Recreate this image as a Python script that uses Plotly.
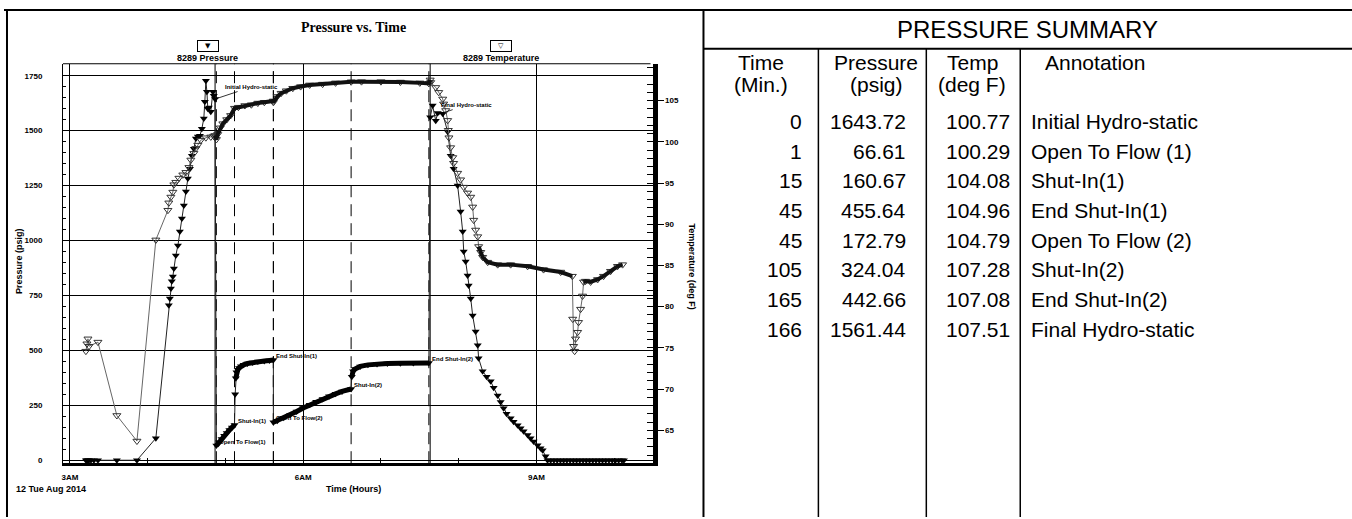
import pandas as pd
import plotly.graph_objects as go

W, H = 1352, 519
BASE_TIME = pd.Timestamp("2014-08-12 03:00:00")

# ---------------- gauge data (minutes after 03:00) ----------------
# 8289 Pressure (psig)
pre_min = [12.3, 13.1, 13.9, 14.7, 16.2, 18.5, 21.6, 36.2, 51.7, 66.3, 76.3, 77.1, 77.9, 78.6, 79.4, 80.2,
           81.7, 83.3, 84.8, 86.4, 87.9, 89.5, 91.0, 92.6, 94.1, 95.6, 97.2, 98.7, 100.3, 101.8, 103.3,
           104.1, 104.9, 105.7, 106.4, 107.2, 108.7, 110.3, 111.0, 112.0]
pre_psig = [0, 0, 0, 0, 0, 0, 0, 0, 0, 100, 705, 736, 782, 814, 836, 873,
            932, 977, 1041, 1100, 1159, 1223, 1282, 1327, 1386, 1418, 1464, 1473, 1477, 1509, 1555,
            1632, 1727, 1677, 1600, 1605, 1586, 1677, 1659, 1643.72]
flow1_min = [113, 115, 117, 119, 121, 123, 125, 127]
flow1_psig = [66.61, 82, 97, 111, 124, 137, 149, 160.67]
si1_min = [127.5, 128, 128.5, 129.5, 130.5, 132, 134, 137, 141, 145, 150, 154, 157]
si1_psig = [300, 373, 400, 412, 420, 428, 434, 440, 445, 449, 452, 454, 455.64]
flow2_min = [157, 160, 165, 170, 175, 180, 185, 190, 195, 200, 205, 210, 217]
flow2_psig = [172.79, 180, 193, 207, 222, 238, 252, 266, 279, 291, 302, 313, 324.04]
si2_min = [217.5, 218.5, 220, 224, 230, 237, 245, 255, 265, 277]
si2_psig = [380, 405, 415, 427, 434, 438, 440, 441, 442, 442.66]
post_min = [278, 279.9, 282.3, 283.8, 287.7, 291.5, 293.8, 296.1, 299.2, 301.5, 303.1, 303.9, 305.4,
            306.9, 307.7, 309.3, 310.8, 313.1, 314.7, 315.4, 318.5, 321.6, 324.7, 327.0, 330.1, 332.4,
            334.7, 337.0, 340.1, 342.4, 345.5, 347.8, 350.1, 353.2, 355.5, 357.8, 360.9, 363.2, 364.8,
            367.1, 368.6, 371.0, 373.5, 376.0, 378.5, 381.0, 383.5, 386.0, 388.5, 391.0, 393.5, 396.0,
            398.5, 401.0, 403.5, 406.0, 408.5, 411.0, 413.5, 416.0, 418.5, 421.0, 423.5, 426.0, 427.5]
post_psig = [1561.44, 1614, 1545, 1580, 1577, 1495, 1386, 1327, 1250, 1132, 1041, 950, 905,
             841, 795, 736, 659, 586, 523, 464, 405, 380, 359, 330, 295, 265,
             236, 212, 191, 175, 159, 145, 132, 115, 100, 85, 68, 55, 45,
             18, 0, 0, 0, 0, 0, 0, 0, 0, 0, 0, 0, 0,
             0, 0, 0, 0, 0, 0, 0, 0, 0, 0, 0, 0, 0]

# 8289 Temperature (deg F)
tpre_min = [12.3, 13.1, 13.9, 14.7, 21.6, 36.2, 51.7, 66.3, 75.6, 76.3, 77.9, 79.4, 80.2, 81.7, 84.1,
            87.1, 89.5, 91.8, 93.3, 95.6, 97.2, 98.7, 101.0, 104.9, 108.7, 111.0]
tpre_degf = [74.6, 75.5, 76.1, 75.2, 75.7, 66.8, 63.7, 88.1, 91.7, 92.6, 93.3, 93.9, 94.8, 95.1, 95.6,
             96.0, 96.3, 96.9, 97.8, 98.6, 99.2, 99.6, 100.2, 100.5, 100.6, 100.7]
ttest_min = [112, 113, 114, 116, 118, 121, 124, 127, 130, 135, 140, 145, 150, 157, 157,
             160, 163, 167, 172, 178, 185, 195, 205, 217, 225, 240, 255, 270, 277, 278]
ttest_degf = [100.77, 100.29, 100.9, 101.7, 102.2, 102.7, 103.2, 104.08, 104.2, 104.4, 104.5, 104.7, 104.8, 104.96, 104.79,
              105.5, 105.9, 106.2, 106.5, 106.7, 106.9, 107.0, 107.15, 107.28, 107.3, 107.3, 107.25, 107.15, 107.08, 107.51]
tpost_min = [278.4, 282.3, 284.6, 287.7, 288.4, 290.0, 291.5, 292.0, 292.5, 293.8, 295.4, 296.1, 299.2,
             301.5, 303.9, 306.9, 309.3, 310.8, 311.6, 313.1, 314.7, 315.4, 317.0, 318.5, 322.4, 330.1,
             340.1, 353.2, 365.5, 378.7, 387.7, 388.0, 388.7, 389.5, 390.2, 391.8, 392.5, 394.1, 395.6,
             396.4, 397.9, 401.8, 407.2, 411.8, 417.2, 422.6, 426.5]
tpost_degf = [107.2, 106.6, 106.0, 105.2, 104.6, 103.8, 102.6, 101.4, 100.5, 99.3, 98.1, 97.4, 96.2,
              95.4, 94.5, 93.8, 93.3, 92.1, 90.5, 89.3, 88.5, 87.3, 86.6, 86.0, 85.4, 85.1,
              85.1, 84.9, 84.5, 84.2, 83.7, 78.5, 75.2, 74.6, 76.1, 76.9, 78.1, 79.7, 81.3,
              83.0, 83.1, 83.0, 83.3, 83.7, 84.3, 84.9, 85.1]

# ---------------- pressure summary ----------------
TEST_START_MIN = 112  # 04:52
sum_time = [0, 1, 15, 45, 45, 105, 165, 166]
sum_press = [1643.72, 66.61, 160.67, 455.64, 172.79, 324.04, 442.66, 1561.44]
sum_temp = [100.77, 100.29, 104.08, 104.96, 104.79, 107.28, 107.08, 107.51]
sum_note = ["Initial Hydro-static", "Open To Flow (1)", "Shut-In(1)", "End Shut-In(1)",
            "Open To Flow (2)", "Shut-In(2)", "End Shut-In(2)", "Final Hydro-static"]

# ---------------- axes ticks ----------------
xtick_min = [0, 180, 360]
xtick_text = ["3AM", "6AM", "9AM"]
p_ticks = [0, 250, 500, 750, 1000, 1250, 1500, 1750]
t_ticks = [65, 70, 75, 80, 85, 90, 95, 100, 105]


def tm(m):
    return BASE_TIME + pd.Timedelta(minutes=m)


def times(ms):
    return [tm(m) for m in ms]


def px(x):
    return x / W


def py(y):
    return 1 - y / H


NARROW = "Liberation Sans Narrow, Arial Narrow, Liberation Sans, Arial, sans-serif"
SANS = "Liberation Sans, Arial, sans-serif"

fig = go.Figure()

# ---- pressure ----
p_min = pre_min + flow1_min + si1_min + flow2_min + si2_min + post_min
p_val = pre_psig + flow1_psig + si1_psig + flow2_psig + si2_psig + post_psig
fig.add_trace(go.Scatter(x=times(p_min), y=p_val, mode="lines+markers", yaxis="y",
                         line=dict(color="#222", width=1),
                         marker=dict(symbol="triangle-down", size=7, color="black"),
                         hoverinfo="skip"))
for sm, sv in [(flow1_min, flow1_psig), (si1_min[1:], si1_psig[1:]), (flow2_min, flow2_psig), (si2_min, si2_psig)]:
    fig.add_trace(go.Scatter(x=times(sm), y=sv, mode="lines", yaxis="y",
                             line=dict(color="black", width=5), hoverinfo="skip"))

# ---- temperature ----
t_min = tpre_min + ttest_min + tpost_min
t_val = tpre_degf + ttest_degf + tpost_degf
fig.add_trace(go.Scatter(x=times(t_min), y=t_val, mode="lines+markers", yaxis="y2",
                         line=dict(color="#666", width=1),
                         marker=dict(symbol="triangle-down-open", size=7, color="#333",
                                     line=dict(width=1)),
                         hoverinfo="skip"))
fig.add_trace(go.Scatter(x=times(ttest_min), y=ttest_degf, mode="lines", yaxis="y2",
                         line=dict(color="#111", width=4), hoverinfo="skip"))
for lo, hi in [(315.0, 387.8), (396.0, 427.0)]:
    sm = [m for m in tpost_min if lo <= m <= hi]
    sv = [v for m, v in zip(tpost_min, tpost_degf) if lo <= m <= hi]
    fig.add_trace(go.Scatter(x=times(sm), y=sv, mode="lines", yaxis="y2",
                             line=dict(color="#111", width=4), hoverinfo="skip"))

shapes = []
ann = []


def text(x, y, s, size, family=SANS, xa="center", ya="middle", angle=0):
    ann.append(dict(x=px(x), y=py(y), xref="paper", yref="paper", text=s, showarrow=False,
                    xanchor=xa, yanchor=ya, textangle=angle,
                    font=dict(family=family, size=size, color="black")))


# ---- event lines ----
for i, t in enumerate(sum_time):
    hydro = i in (0, len(sum_time) - 1)
    shapes.append(dict(type="line", xref="x", yref="y domain", x0=tm(TEST_START_MIN + t), x1=tm(TEST_START_MIN + t),
                       y0=0, y1=1, layer="below",
                       line=dict(color="black", width=1, dash="solid" if hydro else "12px,7px")))

# ---- event labels ----
for i, (t, p, note) in enumerate(zip(sum_time, sum_press, sum_note)):
    label = "<b>" + note.replace(" (", "(") + "</b>"
    if i in (0, len(sum_time) - 1):
        ann.append(dict(x=tm(TEST_START_MIN + t), y=p, xref="x", yref="y", text=label,
                        showarrow=True, arrowhead=0, arrowwidth=0.8, arrowcolor="black", ax=36, ay=-12,
                        xanchor="center", yanchor="middle",
                        font=dict(family=SANS, size=6, color="black")))
    else:
        ann.append(dict(x=tm(TEST_START_MIN + t), y=p, xref="x", yref="y", text=label,
                        showarrow=False, xanchor="left", yanchor="middle", xshift=1, yshift=4,
                        font=dict(family=SANS, size=6, color="black")))

# ---- chart frame extras ----
shapes.append(dict(type="line", xref="paper", yref="paper", x0=px(62), x1=px(650), y0=py(64), y1=py(64),
                   line=dict(color="black", width=1)))

# title & legend
text(353, 28, "<b>Pressure vs. Time</b>", 14, family="Liberation Serif, Times New Roman, serif")
for cx, sym, name in [(207, "\u25BC", "8289 Pressure"), (500, "\u25BD", "8289 Temperature")]:
    ann.append(dict(x=px(cx), y=py(46), xref="paper", yref="paper", text=sym, showarrow=False,
                    xanchor="center", yanchor="middle",
                    width=18, height=8, borderpad=1, bordercolor="black", borderwidth=1,
                    font=dict(family="DejaVu Sans", size=7, color="black")))
    text(cx, 58, "<b>" + name + "</b>", 9, family=NARROW)

# axis titles
text(18, 262, "<b>Pressure (psig)</b>", 9, angle=-90)
text(692, 268, "<b>Temperature (deg F)</b>", 9, angle=90)
text(50, 491, "<b>12 Tue Aug 2014</b>", 9, family=NARROW)
text(353, 491, "<b>Time (Hours)</b>", 9, family=NARROW)

# ---- outer frame and table ----
def hline(x0, x1, y, w=2):
    shapes.append(dict(type="line", xref="paper", yref="paper", x0=px(x0), x1=px(x1), y0=py(y), y1=py(y),
                       line=dict(color="black", width=w)))


def vline(x, y0, y1, w=2):
    shapes.append(dict(type="line", xref="paper", yref="paper", x0=px(x), x1=px(x), y0=py(y0), y1=py(y1),
                       line=dict(color="black", width=w)))


hline(3, 1352, 10)
vline(6, 10, 519)
vline(703, 10, 519)
hline(703, 1352, 49)
for cx in (818, 926, 1020):
    vline(cx, 49, 519, 1.5)

BODY = 21
text(1027, 30, "PRESSURE SUMMARY", 24)
headers = [(761, "Time", "(Min.)"), (876, "Pressure", "(psig)"), (972, "Temp", "(deg F)")]
for cx, h1, h2 in headers:
    text(cx, 63, h1, BODY)
    text(cx, 85, h2, BODY)
text(1043, 63, "Annotation", BODY, xa="left")
for i, (t, p, tp, note) in enumerate(zip(sum_time, sum_press, sum_temp, sum_note)):
    ry = 122 + i * 29.8
    text(804, ry, str(t), BODY, xa="right")
    text(908, ry, f"{p:.2f}", BODY, xa="right")
    text(1012, ry, f"{tp:.2f}", BODY, xa="right")
    text(1029, ry, note, BODY, xa="left")

TICKF = dict(family=NARROW, size=8, color="black")
fig.update_layout(
    width=W, height=H, margin=dict(l=0, r=0, t=0, b=0),
    paper_bgcolor="white", plot_bgcolor="white", showlegend=False,
    xaxis=dict(domain=[px(62), px(652)], type="date", range=[tm(-5.4), tm(449.6)],
               tickmode="array", tickvals=times(xtick_min), ticktext=["<b>" + s + "</b>" for s in xtick_text],
               ticks="inside", ticklen=5, tickcolor="black",
               minor=dict(tickmode="linear", tick0=tm(0), dtick=3600000, ticks="inside", ticklen=5,
                          tickcolor="black", showgrid=False),
               showline=True, linewidth=3, linecolor="black",
               showgrid=True, gridcolor="black", gridwidth=1, tickfont=TICKF, ticklabelstandoff=4),
    yaxis=dict(domain=[py(465), py(64)], range=[-13.6, 1804.5],
               tickmode="array", tickvals=p_ticks, ticktext=["<b>" + str(v) + "</b>" for v in p_ticks],
               ticks="inside", ticklen=4, tickcolor="black",
               minor=dict(tickmode="linear", tick0=0, dtick=50, ticks="inside", ticklen=3, tickcolor="black",
                          showgrid=False),
               showline=True, linewidth=1, linecolor="black", zeroline=False,
               showgrid=True, gridcolor="black", gridwidth=1, tickfont=TICKF, ticklabelstandoff=18),
    yaxis2=dict(overlaying="y", side="right", anchor="x", range=[61.01, 109.47],
                tickmode="array", tickvals=t_ticks, ticktext=["<b>" + str(v) + "</b>" for v in t_ticks],
                ticks="outside", ticklen=6, tickcolor="black",
                minor=dict(tickmode="linear", tick0=65, dtick=1, ticks="inside", ticklen=6, tickcolor="black"),
                showline=True, linewidth=5, linecolor="black", showgrid=False, zeroline=False, tickfont=TICKF),
    shapes=shapes, annotations=ann,
)

fig.write_html("out.html", config={"displayModeBar": False},
               post_script="document.body.style.margin='0px';document.body.style.padding='0px';")
